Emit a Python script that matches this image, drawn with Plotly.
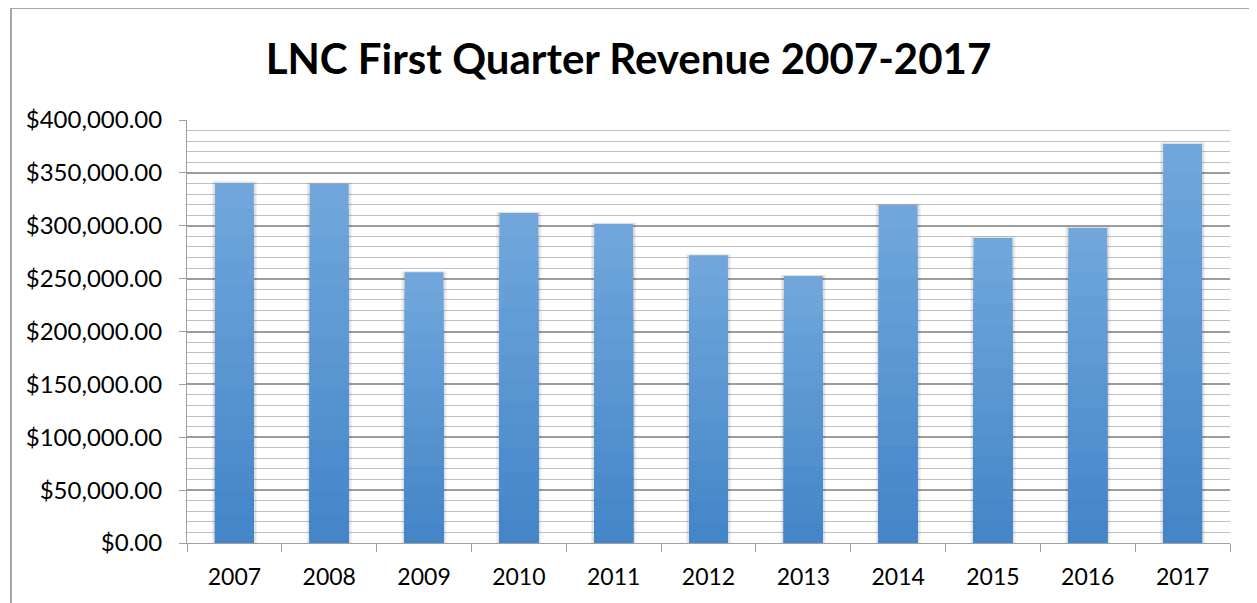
import plotly.graph_objects as go

years = ["2007", "2008", "2009", "2010", "2011", "2012", "2013", "2014", "2015", "2016", "2017"]
revenue = [340500, 339500, 256000, 312000, 301700, 272000, 252500, 319600, 288400, 297900, 377300]
title_text = "LNC First Quarter Revenue 2007-2017"

OFF = 8  # page body margin offset
W, H = 1257 - OFF, 603 - OFF
L, R, T, B = 187 - OFF, 27, 120 - OFF, 60
pw, ph = W - L - R, H - T - B

fig = go.Figure()

# soft shadow behind bars
for wid, col in [(0.48, "rgba(0,0,0,0.05)"), (0.45, "rgba(0,0,0,0.07)")]:
    fig.add_trace(go.Bar(x=years, y=[v * 1.004 for v in revenue], width=wid,
                         marker=dict(color=col, line=dict(width=0)),
                         hoverinfo="skip", showlegend=False))

# gradient bars: layered from full height (light) to short (dark)
top = (112, 166, 220)
bot = (68, 134, 200)
n = 14
for i in range(n):
    f = 1 - i / n
    t = i / (n - 1)
    c = tuple(round(top[k] + (bot[k] - top[k]) * t) for k in range(3))
    fig.add_trace(go.Bar(x=years, y=[v * f for v in revenue], width=0.41,
                         marker=dict(color="rgb(%d,%d,%d)" % c, line=dict(width=0)),
                         hoverinfo="skip" if i else None, showlegend=False))

fig.update_layout(
    width=W, height=H,
    margin=dict(l=L, r=R, t=T, b=B, autoexpand=False),
    paper_bgcolor="white", plot_bgcolor="white",
    barmode="overlay",
    font=dict(family="Lato", color="black", size=23),
    title=dict(text="<b>%s</b>" % title_text, x=0.5 - OFF / (2 * W), xref="container", xanchor="center",
               y=1 - (59 - OFF) / H, yref="container", yanchor="middle",
               font=dict(family="Lato", size=42, color="black")),
    xaxis=dict(type="category", showgrid=False, showline=True, linecolor="#a0a0a0", linewidth=1,
               ticks="outside", tickson="boundaries", ticklen=8, tickcolor="#a0a0a0",
               tickfont=dict(size=23), ticklabelstandoff=13),
    yaxis=dict(range=[0, 400000], dtick=50000, tickformat="$,.2f",
               showgrid=True, gridcolor="#9c9c9c", gridwidth=1.5,
               minor=dict(dtick=10000, showgrid=True, gridcolor="#c0c0c0", gridwidth=1.3),
               showline=True, linecolor="#a0a0a0", linewidth=1,
               ticks="outside", ticklen=7, tickcolor="#a0a0a0",
               tickfont=dict(size=24), ticklabelstandoff=12, zeroline=False),
    shapes=[dict(type="rect", xref="paper", yref="paper",
                 x0=(11 - 187) / pw, x1=1.2, y0=(543 - 8) / ph, y1=-0.5,
                 line=dict(color="#8c8c8c", width=1.5), fillcolor="rgba(0,0,0,0)", layer="below")],
)

fig.write_html("out.html")
